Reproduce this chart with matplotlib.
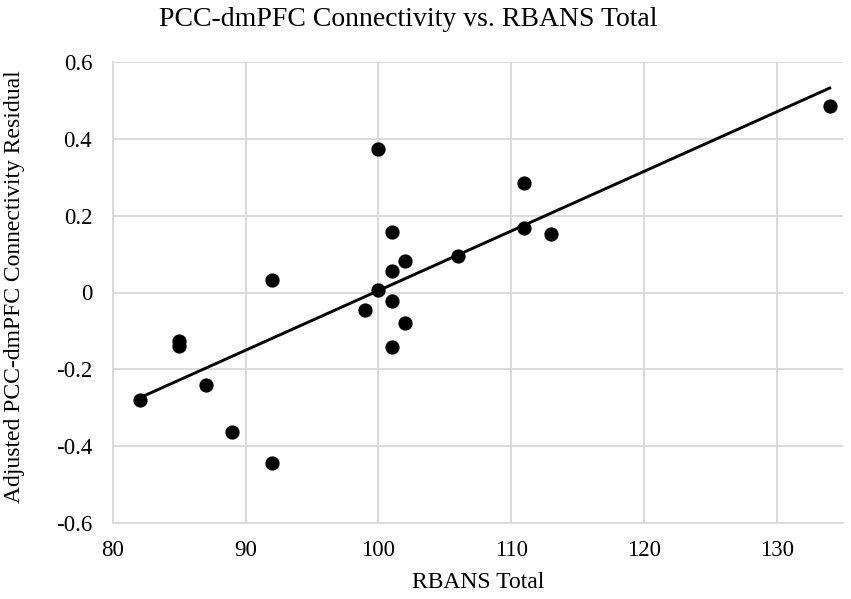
import matplotlib
matplotlib.use("Agg")
import matplotlib.pyplot as plt
import numpy as np

# Data
rbans_total = [82, 85, 85, 87, 89, 92, 92, 99, 100, 100, 101, 101, 101, 101,
               102, 102, 106, 111, 111, 113, 134]
connectivity_residual = [-0.281, -0.125, -0.138, -0.240, -0.364, 0.032, -0.443,
                         -0.046, 0.006, 0.374, -0.023, -0.141, 0.055, 0.158,
                         0.081, -0.079, 0.095, 0.284, 0.169, 0.151, 0.485]
x_ticks = [80, 90, 100, 110, 120, 130]
y_ticks = [-0.6, -0.4, -0.2, 0.0, 0.2, 0.4, 0.6]
y_tick_labels = ["-0.6", "-0.4", "-0.2", "0", "0.2", "0.4", "0.6"]

title = "PCC-dmPFC Connectivity vs. RBANS Total"
x_label = "RBANS Total"
y_label = "Adjusted PCC-dmPFC Connectivity Residual"

plt.rcParams['font.family'] = ['Liberation Serif', 'DejaVu Serif']

W, H = 851, 599
fig = plt.figure(figsize=(W / 100, H / 100), dpi=100)
ax = fig.add_axes([113 / W, 1 - 523 / H, (843 - 113) / W, (523 - 62) / H])

grid_color = "#d9d9d9"
ax.set_xlim(80, 135)
ax.set_ylim(-0.6, 0.6)
ax.set_xticks(x_ticks)
ax.set_yticks(y_ticks)
ax.set_yticklabels(y_tick_labels)
ax.grid(True, color=grid_color, linewidth=1.3)
ax.set_axisbelow(True)
for side in ["top", "right"]:
    ax.spines[side].set_visible(False)
for side in ["left", "bottom"]:
    ax.spines[side].set_color(grid_color)
    ax.spines[side].set_linewidth(1.3)
ax.tick_params(axis="both", length=0, labelsize=16.5, colors="black")
ax.tick_params(axis="x", pad=12)
ax.tick_params(axis="y", pad=15)

x = np.array(rbans_total, dtype=float)
y = np.array(connectivity_residual)
slope, intercept = np.polyfit(x, y, 1)
xl = np.array([x.min(), x.max()])
ax.plot(xl, slope * xl + intercept, color="black", linewidth=2.1, zorder=3)

ax.scatter(x, y, s=105, color="black", zorder=4, linewidths=0)

ax.set_xlabel(x_label, fontsize=17)
ax.xaxis.set_label_coords(0.5, (523 - 582) / 461)
ax.xaxis.label.set_va("center")
ax.set_ylabel(y_label, fontsize=17)
ax.yaxis.set_label_coords((15 - 113) / 730, (523 - 287) / 461)
ax.yaxis.label.set_va("center")

fig.text(408.5 / W, 1 - 19 / H, title, ha="center", va="center", fontsize=20)

fig.savefig("out.png", dpi=100, facecolor="white")
